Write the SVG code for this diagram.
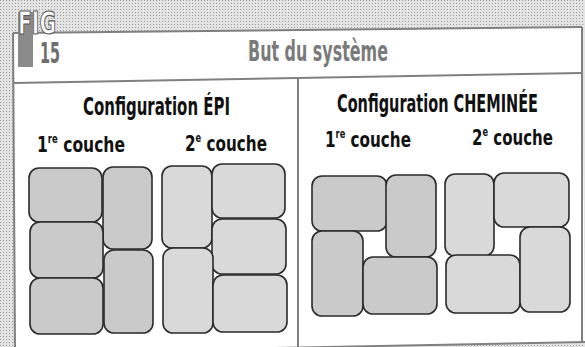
<svg xmlns="http://www.w3.org/2000/svg" width="585" height="347" viewBox="0 0 585 347">
<defs>
<pattern id="ht" width="3" height="3" patternUnits="userSpaceOnUse"><rect width="3" height="3" fill="#e4e4e4"/><rect width="1" height="1" fill="#9a9a9a"/></pattern>
</defs>
<style>
.frame{stroke:#808080;stroke-width:2;fill:none}
.b1{fill:#cacaca;stroke:#2a2a2a;stroke-width:1.6}
.b2{fill:#d9d9d9;stroke:#2a2a2a;stroke-width:1.6}
.cfg{font-family:"Liberation Sans Narrow","DejaVu Sans Condensed","Liberation Sans",sans-serif;font-weight:bold;font-size:25px;fill:#111}
.cou{font-family:"Liberation Sans Narrow","DejaVu Sans Condensed","Liberation Sans",sans-serif;font-weight:bold;font-size:22px;fill:#111}
.sup{font-size:12px}
.ttl{font-family:"Liberation Sans Narrow","DejaVu Sans Condensed","Liberation Sans",sans-serif;font-weight:bold;font-size:28px;fill:#7a7a7a}
</style>
<rect width="585" height="347" fill="url(#ht)"/>
<polygon points="13,33 582,27 585,342 15,353" fill="#ffffff"/>
<g id="frame">
<line class="frame" x1="13" y1="33" x2="582" y2="27"/>
<line class="frame" x1="13" y1="83" x2="582" y2="73"/>
<line class="frame" x1="13" y1="33" x2="15" y2="347"/>
<line class="frame" x1="582" y1="27" x2="582" y2="343"/>
<line class="frame" x1="15" y1="353" x2="585" y2="342"/>
<line class="frame" x1="298" y1="78" x2="298" y2="347"/>
</g>
<g id="fig-label">
<rect x="18" y="12" width="15" height="55" fill="#8a8a8a"/>
<text x="18" y="34" font-family="Liberation Sans Narrow,DejaVu Sans Condensed,Liberation Sans,sans-serif" font-weight="bold" font-size="32" fill="#ffffff" stroke="#5a5a5a" stroke-width="1.2" textLength="38" lengthAdjust="spacingAndGlyphs">FIG</text>
<text x="40" y="63" font-family="Liberation Sans Narrow,DejaVu Sans Condensed,Liberation Sans,sans-serif" font-weight="bold" font-size="29" fill="#6e6e6e" textLength="20" lengthAdjust="spacingAndGlyphs">15</text>
</g>
<g id="title"><text class="ttl" x="248" y="61" textLength="140" lengthAdjust="spacingAndGlyphs">But du système</text></g>
<g id="epi">
<text class="cfg" x="83" y="115" textLength="147" lengthAdjust="spacingAndGlyphs">Configuration ÉPI</text>
<text class="cou" x="37" y="152" textLength="88" lengthAdjust="spacingAndGlyphs">1<tspan class="sup" dy="-9">re</tspan><tspan dy="9"> couche</tspan></text>
<text class="cou" x="185" y="151" textLength="82" lengthAdjust="spacingAndGlyphs">2<tspan class="sup" dy="-9">e</tspan><tspan dy="9"> couche</tspan></text>
<g id="epi-layer1">
<rect class="b1" x="29" y="168" width="73" height="54" rx="10"/>
<rect class="b1" x="103" y="167" width="49" height="82" rx="10"/>
<rect class="b1" x="30" y="222" width="73" height="56" rx="10"/>
<rect class="b1" x="104" y="250" width="49" height="83" rx="10"/>
<rect class="b1" x="30" y="278" width="73" height="56" rx="10"/>
</g>
<g id="epi-layer2">
<rect class="b2" x="162" y="166" width="50" height="82" rx="10"/>
<rect class="b2" x="212" y="164" width="73" height="54" rx="10"/>
<rect class="b2" x="212" y="219" width="74" height="55" rx="10"/>
<rect class="b2" x="163" y="248" width="50" height="85" rx="10"/>
<rect class="b2" x="213" y="275" width="74" height="57" rx="10"/>
</g>
</g>
<g id="cheminee">
<text class="cfg" x="337" y="112" textLength="201" lengthAdjust="spacingAndGlyphs">Configuration CHEMINÉE</text>
<text class="cou" x="325" y="147" textLength="86" lengthAdjust="spacingAndGlyphs">1<tspan class="sup" dy="-9">re</tspan><tspan dy="9"> couche</tspan></text>
<text class="cou" x="472" y="145" textLength="81" lengthAdjust="spacingAndGlyphs">2<tspan class="sup" dy="-9">e</tspan><tspan dy="9"> couche</tspan></text>
<g id="che-layer1">
<rect class="b1" x="312" y="176" width="75" height="55" rx="10"/>
<rect class="b1" x="386" y="175" width="50" height="82" rx="10"/>
<rect class="b1" x="312" y="231" width="51" height="85" rx="10"/>
<rect class="b1" x="363" y="257" width="74" height="57" rx="10"/>
</g>
<g id="che-layer2">
<rect class="b2" x="445" y="174" width="49" height="82" rx="10"/>
<rect class="b2" x="494" y="173" width="75" height="54" rx="10"/>
<rect class="b2" x="446" y="255" width="74" height="58" rx="10"/>
<rect class="b2" x="520" y="227" width="50" height="85" rx="10"/>
</g>
</g>
</svg>
